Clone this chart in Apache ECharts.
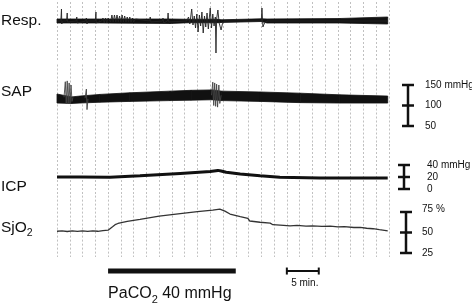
<!DOCTYPE html>
<html><head><meta charset="utf-8">
<script src="https://cdn.jsdelivr.net/npm/echarts@6/dist/echarts.min.js"></script>
<style>html,body{margin:0;padding:0;background:#fff}#c{width:472px;height:303px}</style>
</head><body><div id="c"></div>
<script>
// ---- data (time in minutes) ----
const timeMax = 52;
// Respiration: baseline band + thin excursions (arbitrary units, 0 = baseline)
const respTime = [0, 6.7, 17.7, 20.8, 25.2, 25.7, 32.0, 32.9, 44.3, 51.8];
const respLow  = [-3, -3, -3.5, -2.7, -2.7, -2.5, -1.5, -3, -3, -4];
const respHigh = [1, 1, 1, 0.7, 0.7, 0.2, 1.2, 1, 1.5, 3];
const respTrace = [
  [0,-1],[0.6,-1],[0.7,11],[0.75,-4],[0.85,-1],[1.5,-1],[1.6,7],[1.65,-2],[1.75,-1],
  [3.0,-1],[3.1,3],[3.15,-3],[3.3,-1],[4.5,-1],[4.6,2],[4.7,-4],[4.8,-1],
  [6.0,-1],[6.1,8],[6.15,-3],[6.3,-1],[7.0,-1],[7.2,2],[7.4,-3],[7.6,2],[7.8,-3],[8.0,2],
  [8.2,4],[8.4,-2],[8.6,5],[8.8,-2],[9.0,5],[9.2,-2],[9.4,5],[9.6,-2],[9.8,4],[10.0,-2],
  [10.2,5],[10.4,-2],[10.6,4],[10.8,-2],[11.0,3],[11.2,-2],[11.4,3],[11.6,-2],[11.8,2],
  [12.0,-2],[12.3,1],[12.6,-1],[14.5,-1],[14.6,3],[14.7,-2],[15.0,-1],[16.5,-1],[16.6,2],
  [16.7,-3],[17.3,-1],[17.4,7],[17.5,-2],[17.7,-1],
  [20.3,-1],[20.6,3],[20.8,-4],[21.0,6],[21.1,11],[21.3,-5],[21.5,4],[21.7,-8],[21.9,6],
  [22.1,-12],[22.3,5],[22.5,-6],[22.7,8],[22.9,-13],[23.1,4],[23.3,-7],[23.5,7],[23.7,-9],
  [23.9,5],[24.0,12],[24.2,-8],[24.4,6],[24.6,-6],[24.8,3],[24.9,-33],[25.0,1],[25.2,10],
  [25.4,-3],[25.7,-10],[25.9,-4],[26.2,-1],
  [32.0,-1],[32.1,12],[32.25,-7],[32.5,-3],[32.9,-1],[51.8,-1]
];
// SAP (mmHg): diastolic / systolic envelope
const sapTime = [0, 2.3, 3.6, 6.7, 11.4, 17.7, 21.0, 24.3, 25.8, 31.8, 38.1, 44.3, 51.8];
const sapDia  = [106, 105, 106, 108, 110, 112, 113, 114, 112, 110, 107, 106, 106];
const sapSys  = [128, 121, 123, 127, 131, 135, 137, 138, 135, 133, 130, 126, 123];
const sapArtifacts = [
  [1.1,120],[1.3,158],[1.45,104],[1.6,160],[1.75,106],[1.9,155],[2.05,104],[2.2,150],[2.35,110],[2.5,120],[2.6,'-'],
  [4.4,118],[4.6,140],[4.7,90],[4.85,116],[4.9,'-'],
  [24.2,125],[24.4,157],[24.55,100],[24.7,155],[24.85,98],[25.0,152],[25.15,96],[25.35,150],[25.5,105],[25.7,125]
];
// ICP (mmHg)
const icpTime  = [0, 3.6, 8.3, 13, 19.3, 24, 25.2, 25.7, 26.5, 28.7, 31.8, 34.9, 41.2, 51.8];
const icpValue = [20, 20, 19.5, 22, 26, 29, 31, 30, 28, 25, 22, 19.5, 18.5, 18.5];
// SjO2 (%)
const sjo2Trace = [
  [0,51.5],[0.8,52],[1.6,51.2],[2.4,51.9],[3.2,51.4],[4.0,52.1],[4.8,51.3],[5.6,51.9],[6.4,51.5],
  [7.2,52.4],[8.0,52.8],[8.3,53.8],[8.7,57],[9.1,59.5],[9.55,61],[11,63.5],[13,66],[16,70],
  [19.3,73],[22,75.5],[24.4,77.3],[25.5,78.6],[26.3,76],[27.1,72.5],[28.7,69.5],[29.9,67.3],
  [30.2,64],[31.8,62.5],[33.4,61.4],[33.8,59.5],[35.5,58.8],[36.5,58.2],[37.6,58.6],[39,57.8],
  [40,58.2],[41.5,57.4],[42.8,57.8],[44,56.8],[45,57.2],[46.5,56.1],[47.5,56.3],[48.5,55.2],
  [49.5,54.6],[50.5,53.4],[51.8,52]
];
// scale bars
const sapTicks = [50, 100, 150];  const sapTickLabels = ['50', '100', '150 mmHg'];
const icpTicks = [0, 20, 40];     const icpTickLabels = ['0', '20', '40 mmHg'];
const sjo2Ticks = [25, 50, 75];   const sjo2TickLabels = ['25', '50', '75 %'];
// PaCO2 period and time scale bar (minutes)
const pacoPeriod = [8, 28];
const timeBar = [36, 41];
const channelNames = ['Resp.', 'SAP', 'ICP', 'SjO2'];

// ---- chart ----
const FONT = 'Liberation Sans, Arial, Helvetica, sans-serif';
const INK = '#111';
const left = 57, width = 332;
const grids = [
  {left, width, top: 2, height: 60},
  {left, width, top: 64.5, height: 82},
  {left, width, top: 144, height: 51},
  {left, width, top: 195.6, height: 61.5}
];
const yRanges = [[-42, 18], [0, 200], [-10, 75], [20, 95]];
const xAxes = grids.map((g, i) => ({
  type: 'value', gridIndex: i, min: 0, max: timeMax, interval: 2,
  axisLine: {show: false}, axisTick: {show: false}, axisLabel: {show: false},
  splitLine: {show: true, lineStyle: {color: '#c0c0c0', width: 1, type: [2, 2]}}
}));
const yAxes = yRanges.map((r, i) => ({
  type: 'value', gridIndex: i, min: r[0], max: r[1],
  axisLine: {show: false}, axisTick: {show: false}, axisLabel: {show: false}, splitLine: {show: false}
}));

// filled envelope between low and high values, drawn segment by segment through the axes
function band(idx, times, lo, hi) {
  return {
    type: 'custom', xAxisIndex: idx, yAxisIndex: idx, silent: true, z: 3, clip: false,
    data: times.map((t, k) => [t, lo[k], hi[k]]),
    renderItem(params, api) {
      const k = params.dataIndex;
      if (k >= times.length - 1) return null;
      const p = [api.coord([times[k], lo[k]]), api.coord([times[k + 1], lo[k + 1]]),
                 api.coord([times[k + 1], hi[k + 1]]), api.coord([times[k], hi[k]])];
      return {type: 'polygon', shape: {points: p}, style: {fill: INK, stroke: INK, lineWidth: 0.8}};
    }
  };
}

function scaleBar(idx, ticks, labels, dx, labelDx, topDy) {
  return {
    type: 'custom', xAxisIndex: idx, yAxisIndex: idx, clip: false, silent: true, z: 6,
    data: [[timeMax, ticks[0]]],
    renderItem(params, api) {
      const pts = ticks.map(v => api.coord([timeMax, v]));
      const x = pts[0][0] + dx;
      const children = [{type: 'line', shape: {x1: x, y1: pts[0][1], x2: x, y2: pts[pts.length - 1][1]},
        style: {stroke: INK, lineWidth: 2.5}}];
      pts.forEach((p, k) => {
        children.push({type: 'line', shape: {x1: x - 6, y1: p[1], x2: x + 6, y2: p[1]},
          style: {stroke: INK, lineWidth: 2.5}});
        children.push({type: 'text', x: x + labelDx, y: p[1] + (k === pts.length - 1 ? topDy : 0),
          style: {text: labels[k], fill: INK, fontSize: 10, fontFamily: FONT, verticalAlign: 'middle', align: 'left'}});
      });
      return {type: 'group', children};
    }
  };
}

const bottomMarks = {
  type: 'custom', xAxisIndex: 3, yAxisIndex: 3, clip: false, silent: true, z: 6,
  data: [[pacoPeriod[0], 3]],
  renderItem(params, api) {
    const a = api.coord([pacoPeriod[0], 3]), b = api.coord([pacoPeriod[1], 3]);
    const c = api.coord([timeBar[0], 3]), d = api.coord([timeBar[1], 3]);
    return {type: 'group', children: [
      {type: 'rect', shape: {x: a[0], y: a[1] - 2.5, width: b[0] - a[0], height: 5}, style: {fill: INK}},
      {type: 'text', x: a[0], y: a[1] + 22, style: {
        text: '{a|PaCO}{s|2}{a| 40 mmHg}', fill: INK, verticalAlign: 'middle', align: 'left',
        rich: {a: {fontSize: 16, fontFamily: FONT, fill: INK, lineHeight: 18, verticalAlign: 'bottom'},
               s: {fontSize: 11, fontFamily: FONT, fill: INK, lineHeight: 18, verticalAlign: 'bottom', padding: [0, 0, -3, 0]}}}},
      {type: 'line', shape: {x1: c[0], y1: c[1], x2: d[0], y2: d[1]}, style: {stroke: INK, lineWidth: 2}},
      {type: 'line', shape: {x1: c[0], y1: c[1] - 3.5, x2: c[0], y2: c[1] + 3.5}, style: {stroke: INK, lineWidth: 2}},
      {type: 'line', shape: {x1: d[0], y1: d[1] - 3.5, x2: d[0], y2: d[1] + 3.5}, style: {stroke: INK, lineWidth: 2}},
      {type: 'text', x: (c[0] + d[0]) / 2 + 2, y: c[1] + 12, style: {
        text: '5 min.', fill: INK, fontSize: 10, fontFamily: FONT, align: 'center', verticalAlign: 'middle'}}
    ]};
  }
};

const nameY = [21, 92, 187, 227];
const graphic = channelNames.map((n, i) => {
  const sub = n.endsWith('2');
  return {type: 'text', x: 1, y: nameY[i], silent: true, style: sub ? {
      text: '{a|' + n.slice(0, -1) + '}{s|2}', verticalAlign: 'middle', align: 'left',
      rich: {a: {fontSize: 15.5, fontFamily: FONT, fill: INK, lineHeight: 18, verticalAlign: 'bottom'},
             s: {fontSize: 10.5, fontFamily: FONT, fill: INK, lineHeight: 18, verticalAlign: 'bottom', padding: [0, 0, -3, 0]}}
    } : {text: n, fill: INK, fontSize: 15.5, fontFamily: FONT, verticalAlign: 'middle', align: 'left'}};
});

const series = [
  band(0, respTime, respLow, respHigh),
  {type: 'line', xAxisIndex: 0, yAxisIndex: 0, symbol: 'none', data: respTrace,
   lineStyle: {color: '#222', width: 0.9}, z: 4},
  band(1, sapTime, sapDia, sapSys),
  {type: 'line', xAxisIndex: 1, yAxisIndex: 1, symbol: 'none', data: sapArtifacts, connectNulls: false,
   lineStyle: {color: '#444', width: 0.9}, z: 4},
  {type: 'line', xAxisIndex: 2, yAxisIndex: 2, symbol: 'none', data: icpTime.map((t, k) => [t, icpValue[k]]),
   lineStyle: {color: INK, width: 3}, z: 4},
  {type: 'line', xAxisIndex: 3, yAxisIndex: 3, symbol: 'none', data: sjo2Trace,
   lineStyle: {color: '#333', width: 1.3}, z: 4},
  scaleBar(1, sapTicks, sapTickLabels, 19, 17, 0),
  scaleBar(2, icpTicks, icpTickLabels, 15, 23, 0),
  scaleBar(3, sjo2Ticks, sjo2TickLabels, 17, 16, -3),
  bottomMarks
];

const chart = echarts.init(document.getElementById('c'), null, {renderer: 'canvas'});
chart.setOption({
  animation: false, backgroundColor: '#fff',
  grid: grids, xAxis: xAxes, yAxis: yAxes, series, graphic
});
</script></body></html>
